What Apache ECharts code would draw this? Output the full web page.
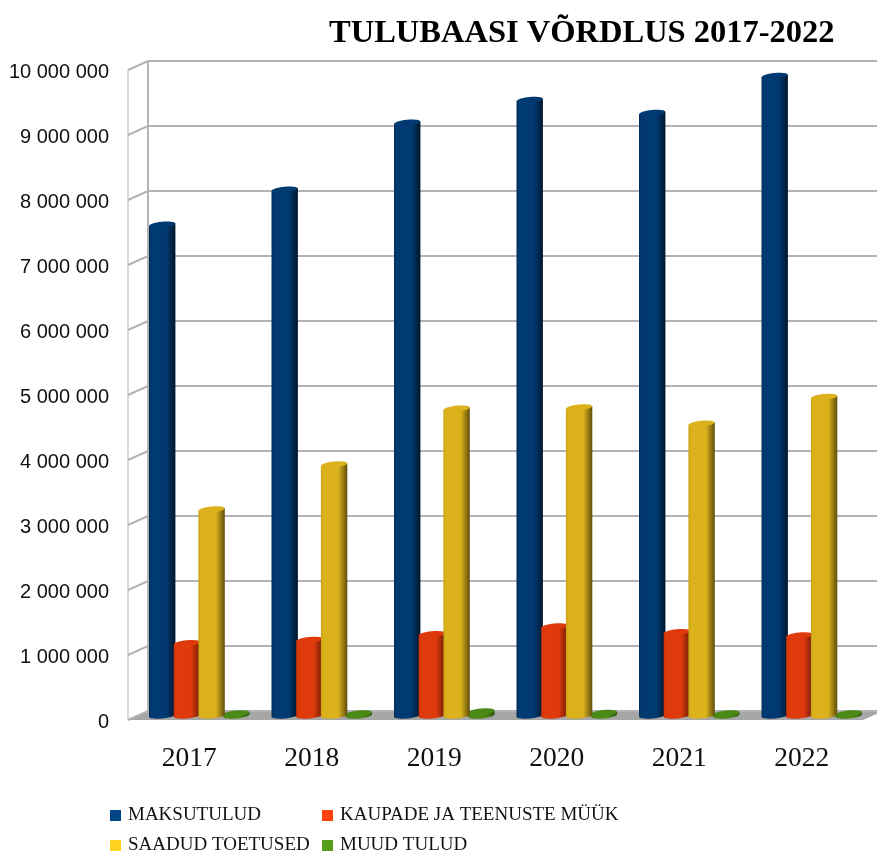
<!DOCTYPE html>
<html>
<head>
<meta charset="utf-8">
<title>Tulubaasi võrdlus</title>
<script src="https://cdn.jsdelivr.net/npm/echarts@6/dist/echarts.min.js"></script>
<style>
  html, body { margin: 0; padding: 0; background: #fff; }
  #chart { width: 877px; height: 851px; }
</style>
</head>
<body>
<div id="chart"></div>
<script>
const years = ['2017', '2018', '2019', '2020', '2021', '2022']
const maksutulud = [7550000, 8090000, 9120000, 9470000, 9270000, 9840000]
const kaubad = [1110000, 1160000, 1250000, 1370000, 1280000, 1230000]
const toetused = [3170000, 3860000, 4720000, 4740000, 4490000, 4900000]
const muud = [30000, 30000, 60000, 40000, 30000, 30000]
const ticks = [0, 1000000, 2000000, 3000000, 4000000, 5000000, 6000000, 7000000, 8000000, 9000000, 10000000]

// depth of the fake 3d box, px
const DX = 20
const DY = -9
const BAR_R = 13.2
const BAR_RY = 3
const BAR_TILT = -0.1
const BAR_STEP = 24.7

const wallColor = '#b3b3b3'

const renderWall = (params, api) => {
    const p = api.coord([0, api.value(1)])
    const box = params.coordSys
    const x0 = box.x
    const x1 = box.x + box.width
    const y = p[1]
    const children = []
    if (params.dataIndex === 0) {
        const top = api.coord([0, ticks[ticks.length - 1]])[1]
        children.push({
            type: 'polygon',
            shape: { points: [[x0, y], [x0 + DX, y + DY], [x1 + DX, y + DY], [x1, y]] },
            style: { fill: '#a6a6a6' }
        })
        children.push({
            type: 'line',
            shape: { x1: x0, y1: y, x2: x0, y2: top },
            style: { stroke: wallColor, lineWidth: 1 }
        })
        children.push({
            type: 'line',
            shape: { x1: x0 + DX, y1: y + DY, x2: x0 + DX, y2: top + DY },
            style: { stroke: wallColor, lineWidth: 2 }
        })
    }
    children.push({
        type: 'polyline',
        shape: { points: [[x0, y], [x0 + DX, y + DY], [x1 + DX, y + DY]] },
        style: { stroke: wallColor, lineWidth: 2, fill: null }
    })
    return { type: 'group', children: children }
}

const cylinder = (slot, light, dark, edge) => (params, api) => {
    const top = api.coord([api.value(0), api.value(1)])
    const base = api.coord([api.value(0), 0])
    const cx = top[0] + DX / 2 + slot * BAR_STEP
    const cyTop = top[1] + DY / 2
    const cyBase = base[1] + DY / 2
    const t = BAR_R * Math.sin(-BAR_TILT)
    const fill = {
        type: 'linear', x: 0, y: 0, x2: 1, y2: 0,
        colorStops: [
            { offset: 0, color: edge },
            { offset: 0.1, color: light },
            { offset: 0.66, color: light },
            { offset: 1, color: dark }
        ]
    }
    const disc = (cy, style) => ({
        type: 'ellipse',
        x: cx, y: cy, rotation: -BAR_TILT,
        shape: { cx: 0, cy: 0, rx: BAR_R, ry: BAR_RY },
        style: style
    })
    return {
        type: 'group',
        children: [
            disc(cyBase, { fill: fill }),
            {
                type: 'polygon',
                shape: { points: [
                    [cx - BAR_R, cyTop + t], [cx + BAR_R, cyTop - t],
                    [cx + BAR_R, cyBase - t], [cx - BAR_R, cyBase + t]
                ] },
                style: { fill: fill }
            },
            disc(cyTop, { fill: light })
        ]
    }
}

const toPoints = values => values.map((v, i) => [i, v])

const barSeries = (name, values, slot, z, legendColor, light, dark, edge) => ({
    type: 'custom',
    name: name,
    z: z,
    clip: false,
    itemStyle: { color: legendColor },
    renderItem: cylinder(slot, light, dark, edge),
    encode: { x: 0, y: 1 },
    data: toPoints(values)
})

const legendText = { fontFamily: 'Liberation Serif', fontSize: 19, color: '#111', padding: [0, 0, 0, 2] }

const option = {
    animation: false,
    backgroundColor: '#fff',
    title: {
        text: 'TULUBAASI VÕRDLUS 2017-2022',
        left: 324,
        top: 12,
        textStyle: { fontFamily: 'Liberation Serif', fontWeight: 'bold', fontSize: 32.5, color: '#000' }
    },
    legend: [
        {
            orient: 'vertical', left: 110, top: 806, height: 60, padding: 0, itemWidth: 11, itemHeight: 11, itemGap: 11,
            icon: 'rect', textStyle: legendText,
            data: ['MAKSUTULUD', 'SAADUD TOETUSED']
        },
        {
            orient: 'vertical', left: 322, top: 806, height: 60, padding: 0, itemWidth: 11, itemHeight: 11, itemGap: 11,
            icon: 'rect', textStyle: legendText,
            data: ['KAUPADE JA TEENUSTE MÜÜK', 'MUUD TULUD']
        }
    ],
    grid: { left: 128, right: 14, top: 70, bottom: 131, containLabel: false },
    xAxis: {
        type: 'category',
        data: years,
        axisLine: { show: false },
        axisTick: { show: false },
        axisLabel: { margin: 25, fontFamily: 'Liberation Serif', fontSize: 27.5, color: '#111' }
    },
    yAxis: {
        type: 'value',
        min: 0,
        max: 10000000,
        interval: 1000000,
        axisLine: { show: false },
        axisTick: { show: false },
        splitLine: { show: false },
        axisLabel: {
            margin: 19,
            verticalAlign: 'top',
            lineHeight: 5,
            fontFamily: 'Liberation Sans',
            fontSize: 20,
            color: '#111',
            formatter: v => String(v).replace(/\B(?=(\d{3})+$)/g, ' ')
        }
    },
    series: [
        {
            type: 'custom',
            name: 'wall',
            z: 1,
            clip: false,
            silent: true,
            renderItem: renderWall,
            encode: { x: 0, y: 1 },
            data: ticks.map(v => [0, v])
        },
        barSeries('MAKSUTULUD', maksutulud, -1.5, 2, '#004586', '#003a70', '#00152b', '#002f5c'),
        barSeries('KAUPADE JA TEENUSTE MÜÜK', kaubad, -0.5, 3, '#ff420e', '#df3a0b', '#6e1c05', '#c93409'),
        barSeries('MUUD TULUD', muud, 1.5, 4, '#579d1c', '#4b8a17', '#2e560d', '#437c14'),
        barSeries('SAADUD TOETUSED', toetused, 0.5, 5, '#ffd320', '#dbb21b', '#5f4d0b', '#c9a318')
    ]
}

const chart = echarts.init(document.getElementById('chart'))
chart.setOption(option)
</script>
</body>
</html>
